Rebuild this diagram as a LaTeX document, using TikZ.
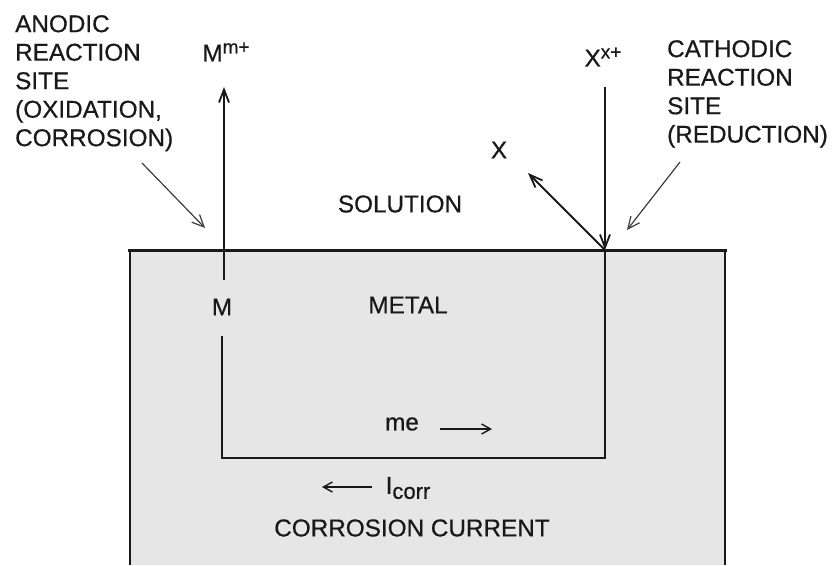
\documentclass[tikz,border=0pt]{standalone}
\usepackage{fontspec}
\setmainfont{Liberation Sans}[BoldFont=Liberation Sans,BoldFeatures={FakeBold=0.6}]
\usepackage{tikz}
\usetikzlibrary{arrows.meta,calc,positioning}

\definecolor{metalgray}{RGB}{230,230,230}
\definecolor{inkgray}{RGB}{25,25,25}

\newcommand{\supx}[1]{\raisebox{8pt}{\fontsize{19}{19}\selectfont #1}}
\newcommand{\subx}[1]{\raisebox{-5pt}{\fontsize{22}{22}\selectfont #1}}

\tikzset{
  lbl/.style={font=\fontsize{24.3}{28.5}\selectfont\bfseries, text=inkgray, inner sep=0pt},
  site/.style={lbl, align=left, anchor=north west},
  rxn/.style={draw=inkgray, line width=1.9pt, -{Straight Barb[length=13pt,width=10pt,line width=1.8pt]}},
  pointer/.style={draw=inkgray!85, line width=1.2pt, -{Straight Barb[length=12pt,width=11pt,line width=1.2pt]}},
  flow/.style={draw=inkgray, line width=1.4pt, -{Straight Barb[length=9pt,width=10pt,line width=1.4pt]}},
  wire/.style={draw=inkgray, line width=1.9pt}
}

\begin{document}
\begin{tikzpicture}[x=1pt,y=-1pt]
  \useasboundingbox (0,0) rectangle (832,565);

  % Metal block
  \fill[metalgray] (130,250) rectangle (725,565);
  \draw[wire] (130,565) -- (130,250);
  \draw[wire] (725,565) -- (725,250);
  \draw[draw=inkgray, line width=3pt] (128,250) -- (727,250);

  % Site labels
  \node[site] (anodic) at (15,15) {ANODIC\\REACTION\\SITE\\(OXIDATION,\\CORROSION)};
  \node[site] (cathodic) at (667,40) {CATHODIC\\REACTION\\SITE\\(REDUCTION)};

  % Species
  \node[lbl] (Mion) at (226,52) {M\supx{m+}};
  \node[lbl] (Xion) at (603,57) {X\supx{x+}};
  \node[lbl] (Xatom) at (499,150) {X};
  \node[lbl] (Matom) at (222,307) {M};
  \node[lbl] (solution) at (400,204) {SOLUTION};
  \node[lbl] (metal) at (408,305) {METAL};
  \node[lbl] (me) at (402,424) {me};
  \node[lbl] (icorr) at (408,488) {I\subx{corr}};
  \node[lbl] (current) at (412,528) {CORROSION CURRENT};

  % Points on the surface and arrow ends
  \coordinate (aS) at (224,250);
  \coordinate (cS) at (605,250);
  \coordinate (aIn) at (224,280);
  \coordinate (aTop) at (224,87);
  \coordinate (cTop) at (605,87);
  \coordinate (xTip) at (528,173);
  \coordinate (aLow) at (222,336);
  \coordinate (cLow) at (605,458);

  % Anodic and cathodic reactions
  \draw[rxn] (aIn) -- (aTop);
  \draw[rxn] (cTop) -- (cS);
  \draw[rxn] (cS) -- (xTip);

  % Pointers to the sites
  \draw[pointer] (142,163) -- ($(aS)+(-19,-22)$);
  \draw[pointer] (680,162) -- ($(cS)+(22,-20)$);

  % Electron path in the metal
  \draw[wire] (aLow) |- (cLow) -- (cS);

  % Flow directions
  \draw[flow] (440,429) -- (492,429);
  \draw[flow] (372,487) -- (322,487);
\end{tikzpicture}
\end{document}
